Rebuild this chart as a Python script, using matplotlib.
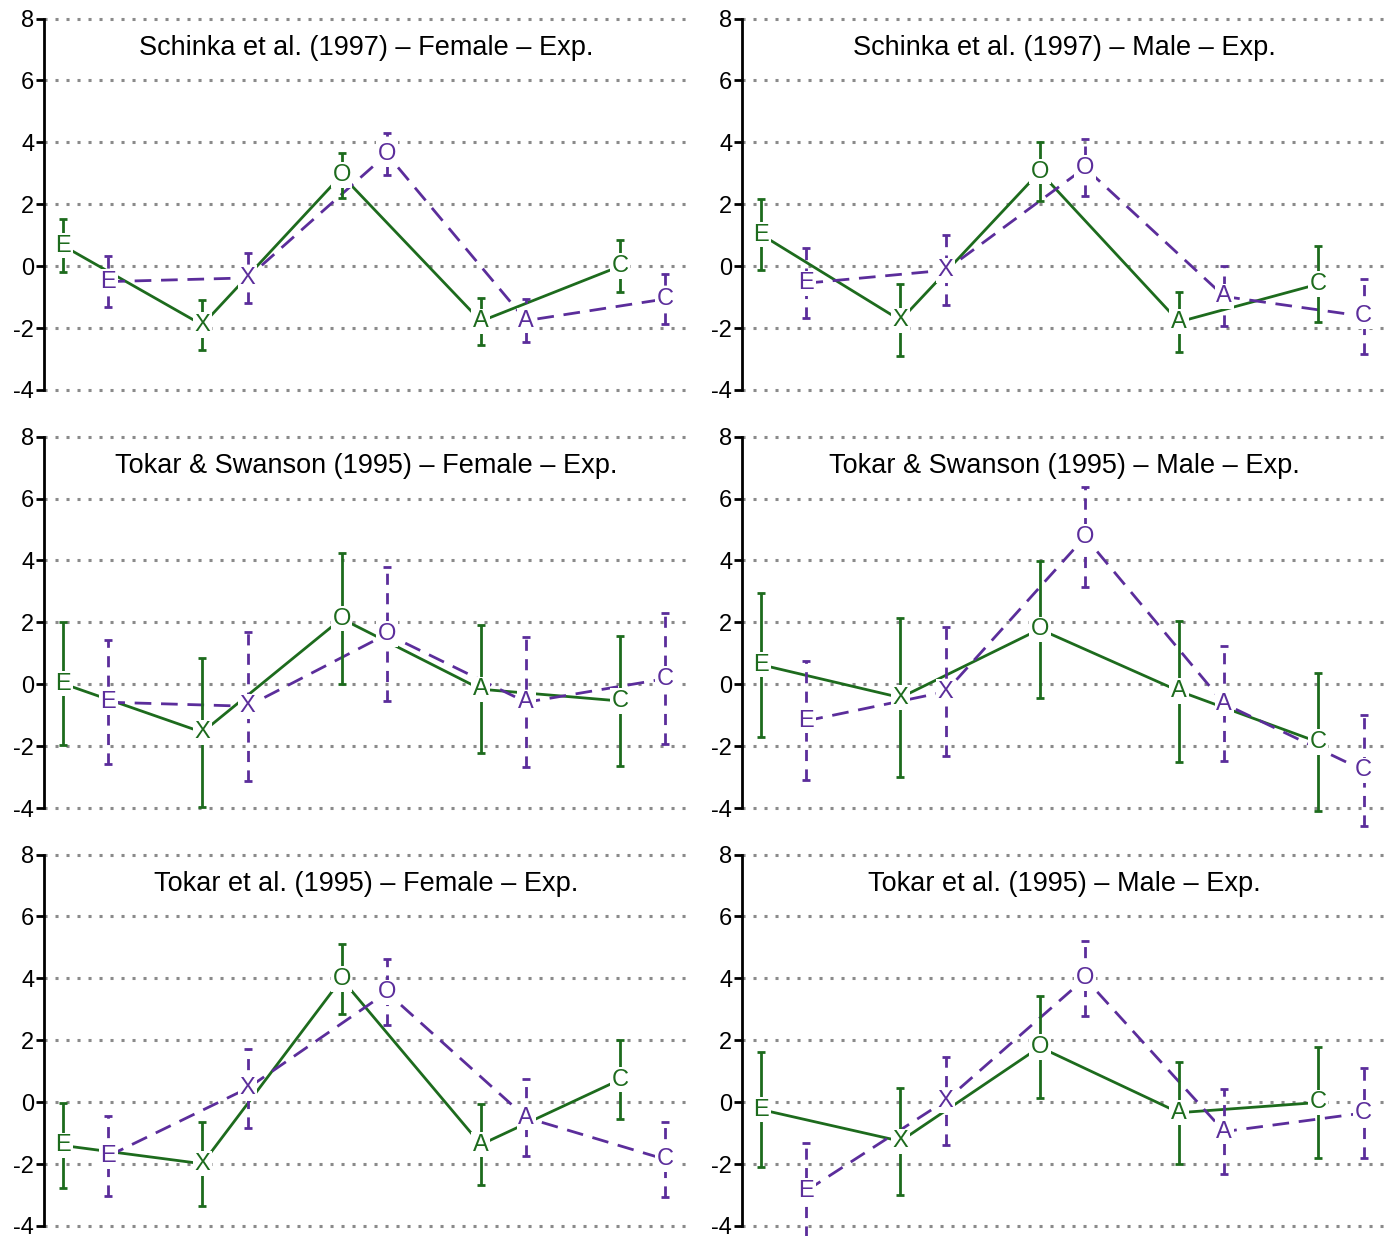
import matplotlib
matplotlib.use("Agg")
from matplotlib import pyplot as plt

plt.rcParams['font.family'] = ['Liberation Sans', 'DejaVu Sans']
plt.rcParams['axes.unicode_minus'] = False

# data
letters = ["E", "X", "O", "A", "C"]
titles = ["Schinka et al. (1997) \u2013 Female \u2013 Exp.",
          "Schinka et al. (1997) \u2013 Male \u2013 Exp.",
          "Tokar & Swanson (1995) \u2013 Female \u2013 Exp.",
          "Tokar & Swanson (1995) \u2013 Male \u2013 Exp.",
          "Tokar et al. (1995) \u2013 Female \u2013 Exp.",
          "Tokar et al. (1995) \u2013 Male \u2013 Exp."]

green_mean = [[0.66, -1.9, 2.94, -1.78, 0.0],
              [1.02, -1.75, 3.05, -1.8, -0.58],
              [0.02, -1.55, 2.12, -0.16, -0.54],
              [0.63, -0.43, 1.78, -0.22, -1.87],
              [-1.4, -1.99, 3.98, -1.37, 0.73],
              [-0.24, -1.26, 1.78, -0.34, -0.01]]
green_err = [[0.85, 0.82, 0.73, 0.76, 0.85],
             [1.15, 1.16, 0.95, 0.98, 1.23],
             [1.98, 2.4, 2.12, 2.06, 2.11],
             [2.33, 2.57, 2.21, 2.28, 2.24],
             [1.38, 1.36, 1.12, 1.31, 1.27],
             [1.85, 1.73, 1.65, 1.65, 1.78]]
purple_mean = [[-0.5, -0.38, 3.62, -1.76, -1.06],
               [-0.55, -0.13, 3.18, -0.98, -1.62],
               [-0.58, -0.71, 1.62, -0.58, 0.18],
               [-1.18, -0.24, 4.76, -0.63, -2.78],
               [-1.74, 0.45, 3.55, -0.5, -1.85],
               [-2.86, 0.05, 4.0, -0.95, -0.35]]
purple_err = [[0.82, 0.81, 0.69, 0.7, 0.82],
              [1.13, 1.12, 0.92, 0.97, 1.21],
              [2.0, 2.41, 2.16, 2.1, 2.12],
              [1.92, 2.08, 1.63, 1.86, 1.8],
              [1.29, 1.28, 1.07, 1.24, 1.22],
              [1.54, 1.42, 1.21, 1.36, 1.45]]

green = "#1d6b1d"
purple = "#5b2d9b"
offset = 0.325
yticks = [-4, -2, 0, 2, 4, 6, 8]

fig = plt.figure(figsize=(13.86, 12.36), dpi=100)
lefts = [0.0317, 0.5354]
bottoms = [0.6695, 0.3312, -0.0069]

for k in range(6):
    row = k // 2
    col = k % 2
    ax = fig.add_axes([lefts[col], bottoms[row], 0.465, 0.3205])
    ax.set_xlim(-0.137, 4.49)
    ax.set_ylim(-4.6, 8.2)

    for t in yticks:
        ax.axhline(t, color="#8a8a8a", lw=2.2, ls=(0, (1, 2.6)), zorder=1)

    xg = [i for i in range(5)]
    xp = [i + offset for i in range(5)]

    ax.plot(xg, green_mean[k], color=green, lw=2, zorder=2)
    ax.plot(xp, purple_mean[k], color=purple, lw=2, ls=(0, (6, 3.5)), zorder=2)

    eb = ax.errorbar(xg, green_mean[k], yerr=green_err[k], fmt="none",
                     ecolor=green, elinewidth=2, capsize=3, capthick=2, zorder=2)
    eb[2][0].set_clip_on(False)
    for c in eb[1]:
        c.set_clip_on(False)
    eb2 = ax.errorbar(xp, purple_mean[k], yerr=purple_err[k], fmt="none",
                      ecolor=purple, elinewidth=2, capsize=3, capthick=2, zorder=2)
    eb2[2][0].set_linestyle((0, (4, 3)))
    eb2[2][0].set_clip_on(False)
    for c in eb2[1]:
        c.set_clip_on(False)

    for i in range(5):
        ax.text(xg[i], green_mean[k][i], letters[i], color=green, fontsize=17,
                ha="center", va="center", zorder=3,
                bbox=dict(facecolor="white", edgecolor="none", pad=1.2))
        ax.text(xp[i], purple_mean[k][i], letters[i], color=purple, fontsize=17,
                ha="center", va="center", zorder=3,
                bbox=dict(facecolor="white", edgecolor="none", pad=1.2))

    ax.text(0.5, 7.05, titles[k], transform=ax.get_yaxis_transform(),
            ha="center", va="center", fontsize=19.5)

    ax.set_yticks(yticks)
    ax.set_yticklabels([str(t) for t in yticks], fontsize=17)
    ax.tick_params(axis="y", direction="out", length=6, width=2, pad=1)
    ax.set_xticks([])
    for s in ["top", "right", "bottom"]:
        ax.spines[s].set_visible(False)
    ax.spines["left"].set_linewidth(2)
    ax.spines["left"].set_bounds(-4, 8)
    ax.patch.set_alpha(0)

fig.savefig("out.png", dpi=100)
